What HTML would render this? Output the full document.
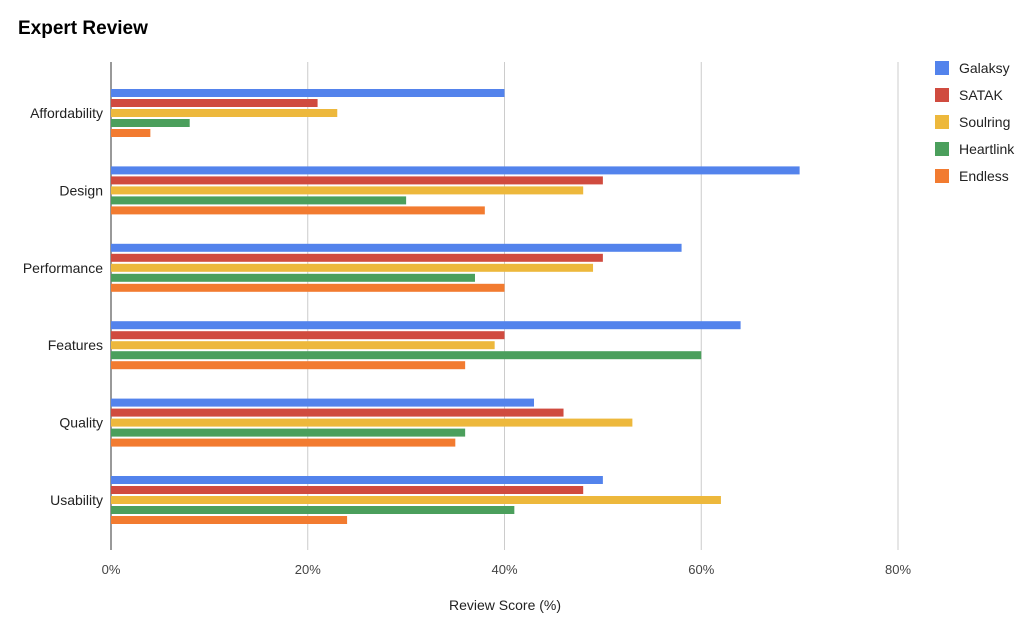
<!DOCTYPE html>
<html><head><meta charset="utf-8"><style>
body{margin:0;background:#fff;font-family:"Liberation Sans",Arial,sans-serif}
</style></head><body>
<svg id="c" width="1024" height="626" xmlns="http://www.w3.org/2000/svg">
<text x="18" y="34" font-size="19" font-weight="bold" fill="#000">Expert Review</text>
<g id="grid"></g><g id="bars"></g><g id="labels"></g><g id="legend"></g>
<text x="505" y="610" font-size="14" fill="#222" text-anchor="middle">Review Score (%)</text>
</svg>
<script>
const categories=["Affordability","Design","Performance","Features","Quality","Usability"];
const seriesNames=["Galaksy","SATAK","Soulring","Heartlink","Endless"];
const galaksy=[40,70,58,64,43,50];
const satak=[21,50,50,40,46,48];
const soulring=[23,48,49,39,53,62];
const heartlink=[8,30,37,60,36,41];
const endless=[4,38,40,36,35,24];
const xTicks=[0,20,40,60,80];
const series=[galaksy,satak,soulring,heartlink,endless];
const colors=["#5383ec","#d04b3f","#edb83c","#4b9f5c","#f27b30"];
const NS="http://www.w3.org/2000/svg";
const x0=111,pxPer=9.8375,plotTop=62,plotBottom=550;
const xs=v=>x0+v*pxPer;
const yc=i=>113+i*77.4;
function mk(t,a,p){const e=document.createElementNS(NS,t);for(const k in a)e.setAttribute(k,a[k]);p.appendChild(e);return e;}
const g=document.getElementById('grid'),b=document.getElementById('bars'),l=document.getElementById('labels'),lg=document.getElementById('legend');
xTicks.forEach(t=>{
 const ln=mk('line',{x1:xs(t),x2:xs(t),y1:plotTop,y2:plotBottom,stroke:t===0?'#333':'#ccc','stroke-width':1},g);
 
 
 const tx=mk('text',{x:xs(t),y:574,'font-size':13,fill:'#444','text-anchor':'middle'},l);
 tx.textContent=t+'%';
 
 
});
categories.forEach((c,i)=>{
 const tx=mk('text',{x:103,y:yc(i)+5,'font-size':14,fill:'#222','text-anchor':'end'},l);
 tx.textContent=c;
 
 
 series.forEach((s,j)=>{
  const r=mk('rect',{x:x0,y:yc(i)-24+j*10,width:xs(s[i])-x0,height:8,fill:colors[j]},b);
  
  
 });
});
seriesNames.forEach((n,j)=>{
 const r=mk('rect',{x:935,y:61+j*27,width:14,height:14,fill:colors[j]},lg);
 
 
 const tx=mk('text',{x:959,y:73+j*27,'font-size':14,fill:'#222'},lg);
 tx.textContent=n;
 
 
});
</script>
</body></html>
